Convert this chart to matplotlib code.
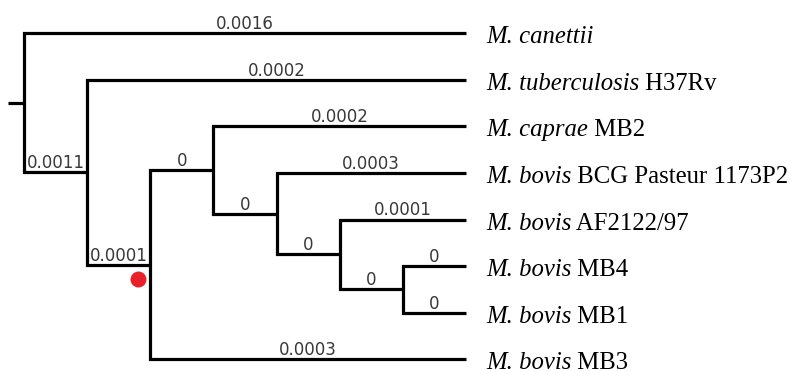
import matplotlib
matplotlib.use('Agg')
import matplotlib.pyplot as plt
from matplotlib.transforms import ScaledTranslation

# leaves, top to bottom
leaf_ids = ['canettii', 'H37Rv', 'caprae', 'BCG', 'AF2122', 'MB4', 'MB1', 'MB3']
leaf_species = ['M. canettii', 'M. tuberculosis', 'M. caprae', 'M. bovis',
                'M. bovis', 'M. bovis', 'M. bovis', 'M. bovis']
leaf_strain = ['', 'H37Rv', 'MB2', 'BCG Pasteur 1173P2', 'AF2122/97', 'MB4', 'MB1', 'MB3']

# internal nodes and their two children
children = {
    'root': ['canettii', 'A'],
    'A': ['H37Rv', 'B'],
    'B': ['C', 'MB3'],
    'C': ['caprae', 'D'],
    'D': ['BCG', 'E'],
    'E': ['AF2122', 'F'],
    'F': ['MB4', 'MB1'],
}

# branch length labels (branch leading to the node)
branch_labels = {
    'canettii': '0.0016', 'A': '0.0011', 'H37Rv': '0.0002', 'B': '0.0001',
    'C': '0', 'MB3': '0.0003', 'caprae': '0.0002', 'D': '0', 'BCG': '0.0003',
    'E': '0', 'AF2122': '0.0001', 'F': '0', 'MB4': '0', 'MB1': '0',
}

highlight_node = 'B'  # red dot marks this node

# ---- layout (cladogram) ----
xpos, ypos = {}, {}
for i, leaf in enumerate(leaf_ids):
    ypos[leaf] = i

def place(node, depth):
    xpos[node] = depth
    if node in children:
        for c in children[node]:
            place(c, depth + 1)
        ypos[node] = sum(ypos[c] for c in children[node]) / 2.0

place('root', 0)
max_depth = max(xpos[n] for n in children) + 1
for leaf in leaf_ids:
    xpos[leaf] = max_depth

fig = plt.figure(figsize=(7.93, 3.71), dpi=100)
ax = fig.add_axes([0, 0, 1, 1])
ax.set_xlim(-0.38, 12.18)
ax.set_ylim(7.25, -0.71)
ax.axis('off')

lw = 2.3
for node, (c1, c2) in children.items():
    xn = xpos[node]
    ax.plot([xpos[c1], xn, xn, xpos[c2]], [ypos[c1], ypos[c1], ypos[c2], ypos[c2]],
            color='black', lw=lw, solid_joinstyle='miter', solid_capstyle='butt')

# root stub
ax.plot([xpos['root'] - 0.25, xpos['root']], [ypos['root'], ypos['root']],
        color='black', lw=lw, solid_capstyle='butt')

# branch labels
parent = {c: p for p, cs in children.items() for c in cs}
for node, lab in branch_labels.items():
    xm = (xpos[parent[node]] + xpos[node]) / 2.0
    ax.annotate(lab, (xm, ypos[node]), xytext=(0, 3), textcoords='offset points',
                ha='center', va='baseline', fontsize=12, color='#383838',
                family='DejaVu Sans')

# leaf labels
for i, leaf in enumerate(leaf_ids):
    t = ax.annotate(leaf_species[i], (xpos[leaf], ypos[leaf]), xytext=(14.4, -7.2),
                    textcoords='offset points', ha='left', va='baseline',
                    fontsize=17.8, family='Liberation Serif', style='italic')
    if leaf_strain[i]:
        ax.annotate(' ' + leaf_strain[i], xy=(1, 0), xycoords=t, ha='left', va='bottom',
                    fontsize=17.8, family='Liberation Serif')

# red dot near the highlighted node
off = ScaledTranslation(-12 / 100, -14 / 100, fig.dpi_scale_trans)
ax.plot(xpos[highlight_node], ypos[highlight_node], 'o', color='#e8202a', ms=11.5,
        mec='none', transform=ax.transData + off)

fig.savefig('out.png', dpi=100)
